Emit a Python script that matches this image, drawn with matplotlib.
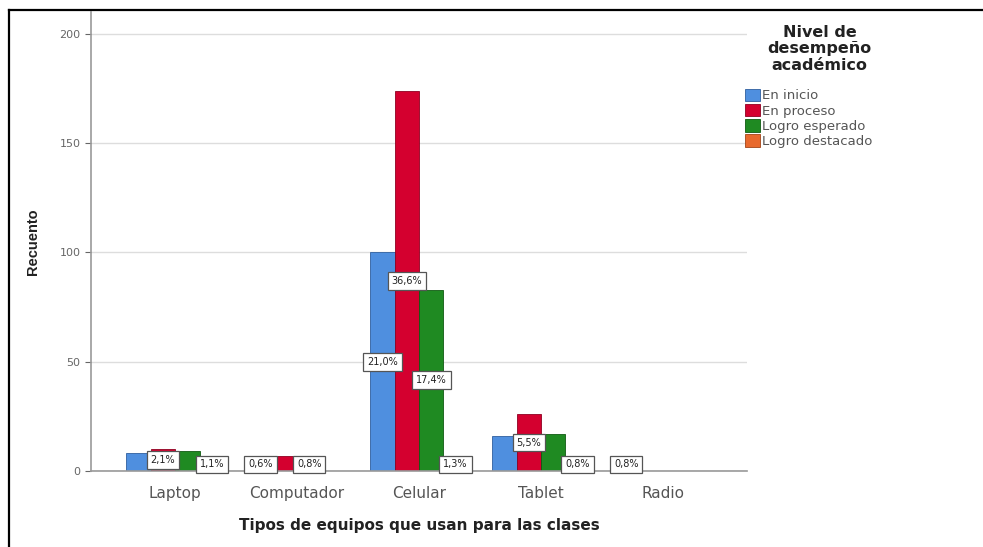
import numpy as np
import matplotlib
matplotlib.use("Agg")
import matplotlib.pyplot as plt
from matplotlib.lines import Line2D
from matplotlib.patches import Patch

plt.rcParams['font.family'] = ['DejaVu Sans']

# data
categories = ["Laptop", "Computador", "Celular", "Tablet", "Radio"]
series_names = ["En inicio", "En proceso", "Logro esperado", "Logro destacado"]
en_inicio = [8, 3, 100, 16, 4]
en_proceso = [10, 7, 174, 26, 0]
logro_esperado = [9, 4, 83, 17, 0]
logro_destacado = [5, 0, 6, 4, 0]
# percentage labels shown on the chart (None = not shown)
lbl_inicio = [None, "0,6%", "21,0%", None, "0,8%"]
lbl_proceso = ["2,1%", None, "36,6%", "5,5%", None]
lbl_esperado = [None, "0,8%", "17,4%", None, None]
lbl_destacado = ["1,1%", None, "1,3%", "0,8%", None]

colors = ["#4f8fdf", "#d4002f", "#1f8a22", "#e8692d"]
edges = ["#2f5f9f", "#8f0020", "#105a12", "#a04518"]

series = [en_inicio, en_proceso, logro_esperado, logro_destacado]
labels = [lbl_inicio, lbl_proceso, lbl_esperado, lbl_destacado]

fig = plt.figure(figsize=(9.83, 5.47), dpi=100)
ax = fig.add_axes([0.0926, 0.139, 0.6674, 0.839])

x = np.arange(len(categories))
w = 0.2
for i, vals in enumerate(series):
    pos = x + (i - 1.5) * w
    ax.bar(pos, vals, width=w, color=colors[i], edgecolor=edges[i],
           linewidth=0.6, label=series_names[i], zorder=2)
    for p, v, t in zip(pos, vals, labels[i]):
        if t is None:
            continue
        ax.text(p, max(v / 2, 3), t, ha='center', va='center', fontsize=7,
                color='#222222', zorder=4,
                bbox=dict(boxstyle='square,pad=0.4', fc='white',
                          ec='#555555', lw=0.9))

ax.set_xlim(-0.69, 4.69)
ax.set_ylim(0, 210)
ax.set_yticks([0, 50, 100, 150, 200])
ax.set_xticks(x)
ax.set_xticklabels(categories)
ax.tick_params(axis='y', labelsize=8, colors='#666666', length=4, width=0.8)
ax.tick_params(axis='x', labelsize=11, labelcolor='#555555', length=0, pad=11)
ax.grid(axis='y', color='#dddddd', linewidth=1.0, zorder=0)
for s in ['top', 'right']:
    ax.spines[s].set_visible(False)
for s in ['left', 'bottom']:
    ax.spines[s].set_color('#999999')
    ax.spines[s].set_linewidth(1.2)

ax.set_ylabel("Recuento", fontsize=10.5, fontweight='bold', color='#222222',
              family='Liberation Sans', labelpad=14)
ax.set_xlabel("Tipos de equipos que usan para las clases", fontsize=11,
              fontweight='bold', color='#222222', labelpad=12)

# legend title drawn separately so it can be centred with a gap below it
fig.text(0.834, 0.955, "Nivel de\ndesempeño\nacadémico", ha='center',
         va='top', fontsize=11.5, fontweight='bold', color='#222222',
         linespacing=1.15, multialignment='center')

handles = [Patch(facecolor=colors[i], edgecolor=edges[i], linewidth=0.6)
           for i in range(4)]
leg = fig.legend(handles, series_names, loc='upper left',
                 bbox_to_anchor=(0.758, 0.838),
                 fontsize=9.5, frameon=False, handlelength=1.1,
                 handleheight=1.1, handletextpad=0.2, labelspacing=0.1,
                 borderaxespad=0, borderpad=0.0)
for t in leg.get_texts():
    t.set_color('#555555')

# frame edges of the original screenshot
fig.add_artist(Line2D([0.009, 1.0], [0.981, 0.981], color='black', lw=1.6,
                      transform=fig.transFigure))
fig.add_artist(Line2D([0.009, 0.009], [0.0, 0.981], color='black', lw=1.6,
                      transform=fig.transFigure))

fig.savefig("out.png", dpi=100)
